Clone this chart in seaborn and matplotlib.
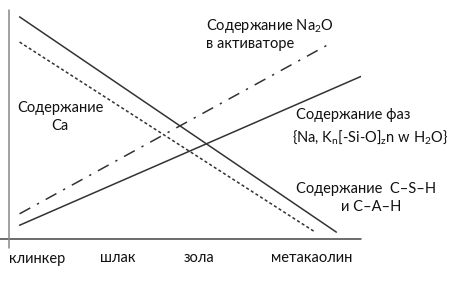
import matplotlib
matplotlib.use("Agg")
import matplotlib.pyplot as plt
import seaborn as sns
import pandas as pd

# ---- data ----
categories = ["клинкер", "шлак", "зола", "метакаолин"]
tick_pos = [8, 31, 54, 86]

series_names = ["C–S–H", "Ca", "Na2O", "phases"]
x_start = [3, 3, 3, 3]
x_end = [93, 87, 92, 100]
y_start = [97, 86, 11, 6]
y_end = [3, 3, 86, 71]
styles = ["-", ":", "dashdot", "-"]

rows = []
for n, xs, xe, ys, ye in zip(series_names, x_start, x_end, y_start, y_end):
    rows.append({"series": n, "x": xs, "y": ys})
    rows.append({"series": n, "x": xe, "y": ye})
df = pd.DataFrame(rows)

sns.set_theme(style="white")
plt.rcParams["font.family"] = ["Lato", "DejaVu Sans"]
plt.rcParams["mathtext.fontset"] = "custom"
plt.rcParams["mathtext.rm"] = "Lato"
plt.rcParams["mathtext.it"] = "Lato"
plt.rcParams["mathtext.default"] = "regular"

fig = plt.figure(figsize=(4.58, 2.85), dpi=100)
ax = fig.add_axes([9 / 458, 1 - 239 / 285, 352 / 458, 229 / 285])

line_col = "#333333"
for n, st in zip(series_names, styles):
    sub = df[df["series"] == n]
    sns.lineplot(data=sub, x="x", y="y", ax=ax, color=line_col, lw=1.1,
                 legend=False, errorbar=None)
    ln = ax.lines[-1]
    if st == ":":
        ln.set_dashes((2.0, 1.6))
    elif st == "dashdot":
        ln.set_dashes((8, 5, 1.5, 5))

ax.set_xlim(0, 100)
ax.set_ylim(0, 100)
for s in ax.spines.values():
    s.set_visible(False)
# axes lines
ax.plot([-9 / 352 * 100, 100], [0, 0], color="#444444", lw=1.1, clip_on=False)
ax.plot([0, 0], [-9 / 229 * 100, 100], color="#888888", lw=1.1, clip_on=False)

ax.set_xticks(tick_pos)
ax.set_xticklabels(categories, fontsize=10.5, color="#111111")
ax.tick_params(axis="x", length=0, pad=9)
ax.set_yticks([])
ax.set_xlabel("")
ax.set_ylabel("")

fs = 10.5
tc = "#111111"
ax.text(56, 93, "Содержание Na$_2$O", fontsize=fs, color=tc, ha="left", va="center")
ax.text(56, 85, "в активаторе", fontsize=fs, color=tc, ha="left", va="center")
ax.text(2.3, 57, "Содержание", fontsize=fs, color=tc, ha="left", va="center")
ax.text(14.5, 49.5, "Ca", fontsize=fs, color=tc, ha="center", va="center")
ax.text(81.5, 54, "Содержание фаз", fontsize=fs, color=tc, ha="left", va="center")
ax.text(80.5, 44.5, "{Na, K$_n$[-Si-O]$_z$n w H$_2$O}", fontsize=fs, color=tc,
        ha="left", va="center")
ax.text(81.5, 22, "Содержание  C–S–H", fontsize=fs, color=tc, ha="left", va="center")
ax.text(103, 14, "и C–A–H", fontsize=fs, color=tc, ha="center", va="center")

fig.savefig("out.png", dpi=100)
